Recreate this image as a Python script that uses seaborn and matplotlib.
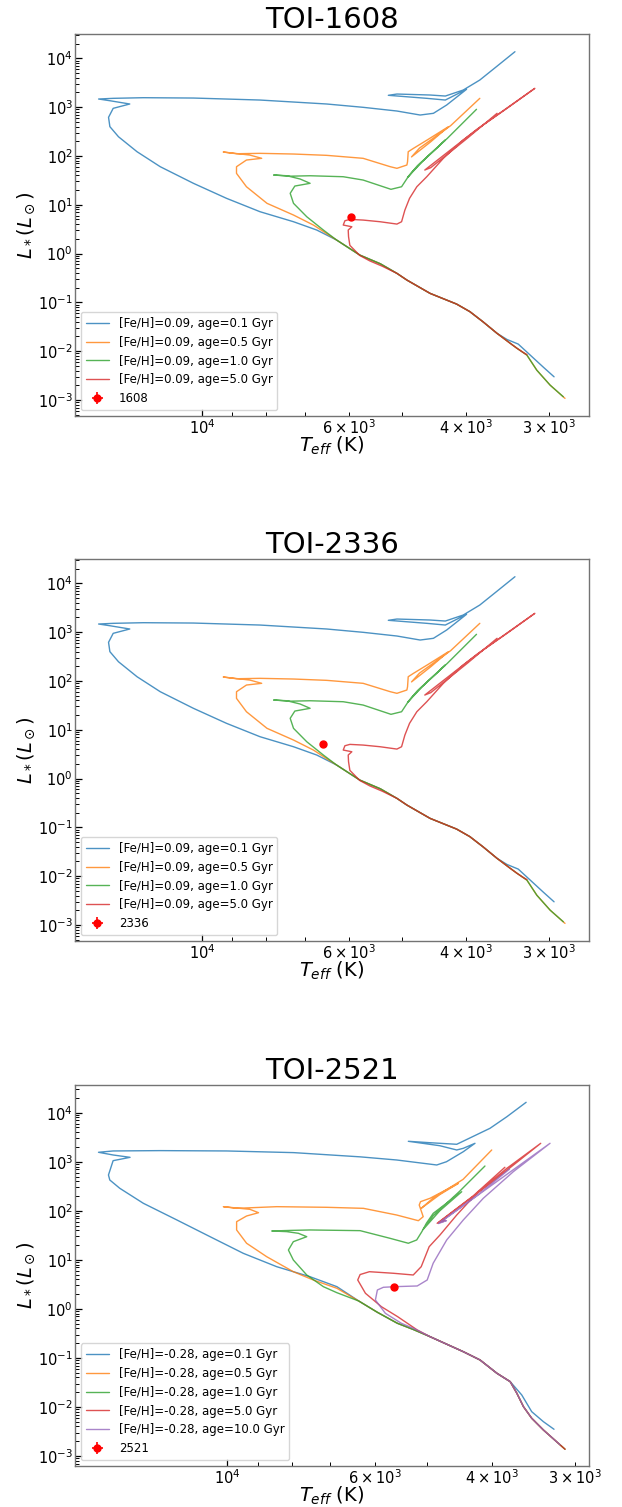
import numpy as np
import matplotlib
matplotlib.use("Agg")
import matplotlib.pyplot as plt
import seaborn as sns

# ---------------- data: isochrones, log10(Teff/K) and log10(L/Lsun) ----------------
# [Fe/H] = +0.09 (TOI-1608 and TOI-2336 panels)
logt_p09_a01 = [3.469, 3.485, 3.505, 3.523, 3.540, 3.555, 3.576, 3.596, 3.616, 3.656, 3.691, 3.706,
                3.731, 3.762, 3.797, 3.827, 3.862, 3.9125, 3.963, 4.013, 4.063, 4.098, 4.126, 4.139,
                4.141, 4.134, 4.109, 4.139, 4.156, 4.134, 4.0885, 4.013, 3.9125, 3.812, 3.757, 3.706,
                3.671, 3.651, 3.631, 3.601, 3.616, 3.633, 3.661, 3.719, 3.706, 3.656, 3.633, 3.606,
                3.581, 3.556, 3.528]
logl_p09_a01 = [-2.525, -2.33, -2.08, -1.855, -1.76, -1.635, -1.40, -1.19, -1.035, -0.816, -0.543, -0.406,
                -0.21, -0.031, 0.277, 0.482, 0.652, 0.857, 1.131, 1.439, 1.779, 2.086, 2.393, 2.60,
                2.791, 2.975, 3.064, 3.131, 3.166, 3.180, 3.193, 3.186, 3.145, 3.064, 2.996, 2.920,
                2.838, 2.873, 3.043, 3.365, 3.262, 3.145, 3.180, 3.242, 3.268, 3.248, 3.227, 3.350,
                3.555, 3.828, 4.135]

logt_p09_a05 = [3.4525, 3.475, 3.495, 3.510, 3.525, 3.535, 3.555, 3.576, 3.596, 3.616, 3.656, 3.691,
                3.706, 3.731, 3.762, 3.797, 3.832, 3.862, 3.902, 3.933, 3.948, 3.948, 3.933, 3.910,
                3.928, 3.968, 3.948, 3.9125, 3.862, 3.812, 3.757, 3.716, 3.706, 3.691, 3.690, 3.689,
                3.681, 3.660, 3.6285, 3.655, 3.684, 3.672, 3.625, 3.581]
logl_p09_a05 = [-2.967, -2.695, -2.39, -2.08, -1.94, -1.84, -1.635, -1.40, -1.19, -1.035, -0.816, -0.543,
                -0.406, -0.21, -0.031, 0.277, 0.584, 0.789, 1.029, 1.369, 1.643, 1.779, 1.916, 1.951,
                2.018, 2.08, 2.045, 2.053, 2.039, 2.012, 1.951, 1.779, 1.746, 1.814, 1.88, 2.086,
                2.156, 2.33, 2.598, 2.29, 1.98, 2.16, 2.62, 3.18]

logt_p09_a10 = [3.455, 3.475, 3.495, 3.510, 3.525, 3.535, 3.555, 3.576, 3.596, 3.616, 3.656, 3.691,
                3.706, 3.731, 3.762, 3.797, 3.817, 3.842, 3.862, 3.867, 3.860, 3.837, 3.852, 3.872,
                3.892, 3.867, 3.837, 3.787, 3.757, 3.715, 3.699, 3.689, 3.680, 3.671, 3.633, 3.668,
                3.690, 3.675, 3.630, 3.586]
logl_p09_a10 = [-2.935, -2.695, -2.39, -2.08, -1.94, -1.84, -1.635, -1.40, -1.19, -1.035, -0.816, -0.543,
                -0.406, -0.21, -0.031, 0.277, 0.482, 0.754, 1.029, 1.234, 1.383, 1.439, 1.527, 1.594,
                1.609, 1.585, 1.594, 1.574, 1.506, 1.316, 1.369, 1.574, 1.72, 1.848, 2.326, 1.88,
                1.56, 1.80, 2.36, 2.955]

logt_p09_a50 = [3.510, 3.515, 3.525, 3.535, 3.555, 3.576, 3.596, 3.616, 3.656, 3.691, 3.706, 3.728,
                3.747, 3.762, 3.777, 3.779, 3.7795, 3.774, 3.787, 3.7845, 3.777, 3.757, 3.7315, 3.706,
                3.699, 3.694, 3.687, 3.676, 3.661, 3.636, 3.606, 3.576, 3.540, 3.498, 3.585, 3.664,
                3.655, 3.600, 3.555]
logl_p09_a50 = [-2.07, -2.03, -1.94, -1.84, -1.635, -1.40, -1.19, -1.035, -0.816, -0.543, -0.406, -0.26,
                -0.15, -0.04, 0.168, 0.344, 0.482, 0.549, 0.584, 0.672, 0.700, 0.686, 0.652, 0.604,
                0.652, 0.891, 1.131, 1.369, 1.574, 1.951, 2.326, 2.633, 2.975, 3.385, 2.55, 1.711,
                1.76, 2.36, 2.873]

# [Fe/H] = -0.28 (TOI-2521 panel)
logt_m28_a01 = [3.508, 3.524, 3.5416, 3.5566, 3.574, 3.594, 3.6194, 3.6446, 3.6947, 3.72, 3.744, 3.774,
                3.802, 3.835, 3.8755, 3.9256, 3.976, 4.026, 4.076, 4.1265, 4.162, 4.177, 4.179, 4.172,
                4.1465, 4.172, 4.194, 4.172, 4.101, 4.001, 3.900, 3.800, 3.745, 3.6846, 3.670, 3.6446,
                3.627, 3.6446, 3.6545, 3.680, 3.7274, 3.6947, 3.6545, 3.6044, 3.579, 3.550]
logl_m28_a01 = [-2.455, -2.30, -2.096, -1.755, -1.484, -1.313, -1.042, -0.873, -0.567, -0.42, -0.293, -0.07,
                0.16, 0.453, 0.656, 0.860, 1.133, 1.472, 1.813, 2.153, 2.459, 2.628, 2.73, 3.022,
                3.09, 3.138, 3.193, 3.22, 3.227, 3.22, 3.186, 3.10, 3.036, 2.934, 3.0, 3.205,
                3.376, 3.274, 3.24, 3.327, 3.417, 3.388, 3.356, 3.682, 3.918, 4.212]

logt_m28_a05 = [3.4914, 3.524, 3.5416, 3.554, 3.564, 3.574, 3.594, 3.6194, 3.6446, 3.6947, 3.72, 3.744,
                3.774, 3.802, 3.835, 3.8705, 3.9006, 3.9407, 3.971, 3.986, 3.986, 3.971, 3.953, 3.966,
                4.006, 3.986, 3.9256, 3.850, 3.795, 3.745, 3.7123, 3.705, 3.711, 3.709, 3.6947, 3.652,
                3.680, 3.708, 3.690, 3.645, 3.6018]
logl_m28_a05 = [-2.862, -2.469, -2.23, -1.994, -1.72, -1.484, -1.313, -1.042, -0.873, -0.567, -0.42, -0.293,
                -0.07, 0.16, 0.42, 0.589, 0.758, 1.064, 1.338, 1.609, 1.778, 1.894, 1.961, 2.03,
                2.084, 2.05, 2.084, 2.071, 2.05, 1.914, 1.798, 1.88, 2.118, 2.186, 2.255, 2.56,
                2.33, 2.05, 2.26, 2.64, 3.24]

logt_m28_a10 = [3.4914, 3.524, 3.5416, 3.554, 3.564, 3.574, 3.594, 3.6194, 3.6446, 3.6947, 3.72, 3.744,
                3.774, 3.802, 3.835, 3.8554, 3.8804, 3.9006, 3.908, 3.9006, 3.8804, 3.893, 3.9105, 3.933,
                3.905, 3.8755, 3.800, 3.755, 3.7274, 3.7148, 3.707, 3.700, 3.6898, 3.647, 3.680, 3.705,
                3.690, 3.650, 3.612]
logl_m28_a10 = [-2.862, -2.469, -2.23, -1.994, -1.72, -1.484, -1.313, -1.042, -0.873, -0.567, -0.42, -0.293,
                -0.07, 0.16, 0.33, 0.453, 0.691, 0.997, 1.20, 1.37, 1.472, 1.541, 1.575, 1.588,
                1.60, 1.609, 1.595, 1.439, 1.338, 1.405, 1.575, 1.75, 1.949, 2.389, 2.0, 1.62,
                1.90, 2.40, 2.913]

logt_m28_a50 = [3.4914, 3.524, 3.5416, 3.554, 3.564, 3.574, 3.594, 3.6194, 3.6446, 3.6947, 3.714, 3.7435,
                3.768, 3.792, 3.8036, 3.800, 3.786, 3.750, 3.720, 3.708, 3.696, 3.6797, 3.6545, 3.6244,
                3.579, 3.528, 3.600, 3.682, 3.672, 3.684, 3.630, 3.582]
logl_m28_a50 = [-2.862, -2.469, -2.23, -1.994, -1.72, -1.484, -1.313, -1.042, -0.873, -0.567, -0.43, -0.159,
                0.045, 0.318, 0.589, 0.70, 0.758, 0.726, 0.691, 0.86, 1.268, 1.507, 1.914, 2.357,
                2.866, 3.376, 2.60, 1.757, 1.81, 1.745, 2.30, 2.887]

logt_m28_a100 = [3.499, 3.524, 3.5416, 3.554, 3.564, 3.574, 3.594, 3.6194, 3.6446, 3.6947, 3.716, 3.738,
                 3.762, 3.777, 3.774, 3.765, 3.747, 3.714, 3.699, 3.690, 3.6696, 3.6446, 3.6145, 3.5693,
                 3.514, 3.680, 3.670, 3.682, 3.625, 3.575]
logl_m28_a100 = [-2.77, -2.469, -2.23, -1.994, -1.72, -1.484, -1.313, -1.042, -0.873, -0.567, -0.42, -0.293,
                 -0.09, 0.181, 0.385, 0.44, 0.453, 0.467, 0.589, 0.93, 1.405, 1.813, 2.255, 2.797,
                 3.376, 1.76, 1.80, 1.74, 2.30, 2.85]

ages_p09 = ["0.1", "0.5", "1.0", "5.0"]
ages_m28 = ["0.1", "0.5", "1.0", "5.0", "10.0"]
feh_p09 = "0.09"
feh_m28 = "-0.28"

# y-axis decades shown as major ticks
lum_ticks = [1e-3, 1e-2, 1e-1, 1e0, 1e1, 1e2, 1e3, 1e4]

# stars
star_names = ["1608", "2336", "2521"]
star_teff = [5960.0, 6560.0, 5605.0]
star_teff_err = [60.0, 60.0, 60.0]
star_lum = [5.6, 5.2, 2.84]
star_lum_err = [0.25, 0.25, 0.15]

# ---------------- styling ----------------
sns.set_style("ticks")
plt.rcParams['font.family'] = ['DejaVu Sans']
plt.rcParams['mathtext.fontset'] = 'dejavusans'
plt.rcParams['text.color'] = 'black'
plt.rcParams['axes.labelcolor'] = 'black'

colors = sns.color_palette("tab10")

fig = plt.figure(figsize=(6.22, 15.07), dpi=100)
W, H = 622.0, 1507.0
boxes = [(75, 589, 34, 416), (75, 589, 559, 941), (75, 589, 1085, 1466)]

panels = [
    dict(curves=[(logt_p09_a01, logl_p09_a01), (logt_p09_a05, logl_p09_a05),
                 (logt_p09_a10, logl_p09_a10), (logt_p09_a50, logl_p09_a50)],
         ages=ages_p09, feh=feh_p09, xlim=(10**4.1916, 10**3.4163), ylim=(10**-3.328, 10**4.498)),
    dict(curves=[(logt_p09_a01, logl_p09_a01), (logt_p09_a05, logl_p09_a05),
                 (logt_p09_a10, logl_p09_a10), (logt_p09_a50, logl_p09_a50)],
         ages=ages_p09, feh=feh_p09, xlim=(10**4.1916, 10**3.4163), ylim=(10**-3.328, 10**4.498)),
    dict(curves=[(logt_m28_a01, logl_m28_a01), (logt_m28_a05, logl_m28_a05),
                 (logt_m28_a10, logl_m28_a10), (logt_m28_a50, logl_m28_a50),
                 (logt_m28_a100, logl_m28_a100)],
         ages=ages_m28, feh=feh_m28, xlim=(10**4.2294, 10**3.4553), ylim=(10**-3.204, 10**4.565)),
]

for i, (p, (l, r, t, b)) in enumerate(zip(panels, boxes)):
    ax = fig.add_axes([l / W, 1 - b / H, (r - l) / W, (b - t) / H])
    ax.set_xscale('log')
    ax.set_yscale('log')
    for k, ((lt, ll), age) in enumerate(zip(p['curves'], p['ages'])):
        sns.lineplot(x=10 ** np.array(lt), y=10 ** np.array(ll), sort=False, estimator=None,
                     ax=ax, color=colors[k], lw=1.0, alpha=0.8,
                     label=f"[Fe/H]={p['feh']}, age={age} Gyr")
    ax.errorbar([star_teff[i]], [star_lum[i]], xerr=[star_teff_err[i]], yerr=[star_lum_err[i]],
                fmt='o', color='red', ms=5, elinewidth=1.2, capsize=0, label=star_names[i], zorder=5)
    ax.set_xlim(p['xlim'])
    ax.set_ylim(p['ylim'])
    ax.set_yticks(lum_ticks)
    ax.set_ylim(p['ylim'])
    ax.set_title(f"TOI-{star_names[i]}", fontsize=21, pad=3.5, color='black')
    ax.set_xlabel(r'$T_{eff}$ (K)', fontsize=14, labelpad=-1.5)
    ax.set_ylabel(r'$L_*(L_\odot)$', fontsize=14, labelpad=1)
    ax.tick_params(which='both', direction='in', top=False, right=False, labelsize=10.5,
                   colors='k', pad=1.5)
    ax.tick_params(which='major', length=5, width=0.9)
    ax.tick_params(which='minor', length=3, width=0.7)
    for s in ax.spines.values():
        s.set_color('0.45')
        s.set_linewidth(1.0)
    ax.legend(loc='lower left', fontsize=8.5)

fig.savefig("out.png", dpi=100)
